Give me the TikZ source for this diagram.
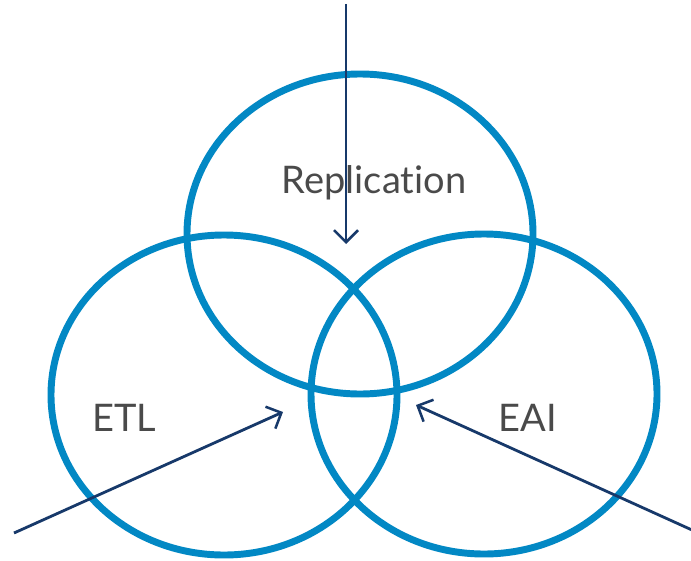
\documentclass[tikz,border=0pt]{standalone}
\usepackage{fontspec}
\setmainfont[Ligatures={NoCommon}]{Lato}
\usetikzlibrary{arrows.meta}
\definecolor{ringblue}{HTML}{0288C4}
\definecolor{arrownavy}{HTML}{17396A}
\definecolor{labelgray}{HTML}{4A4A4A}
\begin{document}
\begin{tikzpicture}[x=0.75pt,y=-0.75pt,
  ring/.style={draw=ringblue,line width=5.2pt},
  lbl/.style={text=labelgray,font=\fontsize{28.5}{32}\selectfont,inner sep=0pt},
  pointer/.style={draw=arrownavy,line width=2.1pt,-{Straight Barb[length=9pt,width=18pt,line width=1.9pt]}}]
\useasboundingbox (0,0) rectangle (691,560);
\draw[ring] (360,234) ellipse [x radius=173, y radius=160];
\draw[ring] (224,395) ellipse [x radius=173, y radius=160];
\draw[ring] (484,394) ellipse [x radius=173, y radius=160];
\node[lbl,anchor=base] (rep) at (374,193) {Replication};
\node[lbl,anchor=base] (etl) at (124,431) {ETL};
\node[lbl,anchor=base] (eai) at (528,431) {EAI};
\coordinate (topstart) at (346,4);
\coordinate (topend) at (346,244);
\coordinate (lstart) at (14,533);
\coordinate (lend) at (283,412);
\coordinate (rstart) at (692,530);
\coordinate (rend) at (416,405);
\draw[pointer] (topstart) -- (topend);
\draw[pointer] (lstart) -- (lend);
\draw[pointer] (rstart) -- (rend);
\end{tikzpicture}
\end{document}
